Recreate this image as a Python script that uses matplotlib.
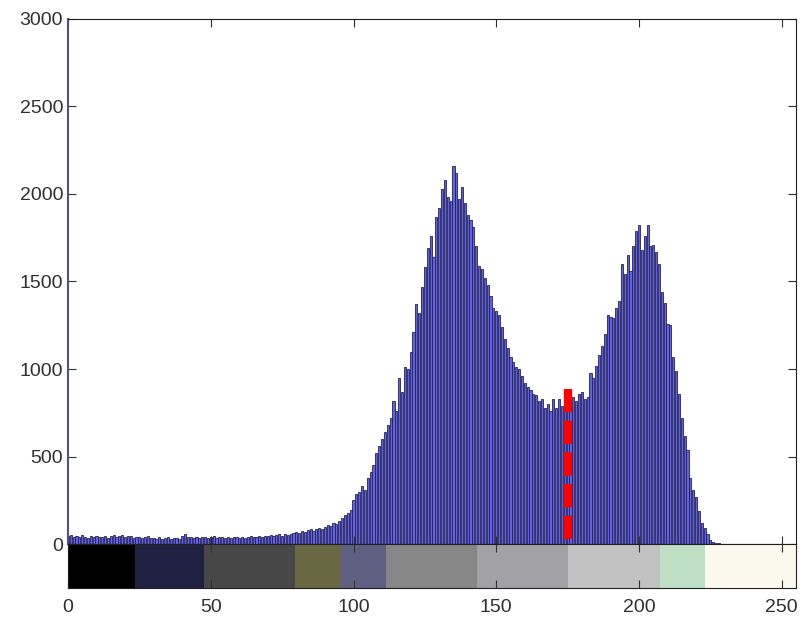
import numpy as np
import matplotlib.pyplot as plt
from matplotlib.colors import ListedColormap

plt.rcParams['font.family'] = ['Liberation Sans', 'DejaVu Sans']

# gray level counts (bins 0..255)
counts = [
    45, 52, 40, 48, 38, 50, 42, 36, 44, 40,
    46, 38, 42, 48, 35, 44, 50, 40, 46, 52,
    38, 44, 48, 36, 42, 40, 34, 38, 44, 32,
    36, 30, 38, 28, 34, 40, 26, 32, 36, 30,
    44, 55, 38, 42, 36, 40, 34, 38, 42, 36,
    40, 44, 34, 38, 42, 36, 40, 34, 38, 42,
    36, 38, 34, 40, 44, 38, 42, 46, 40, 48,
    44, 52, 46, 50, 56, 48, 60, 52, 58, 64,
    70, 62, 74, 68, 78, 84, 76, 88, 94, 86,
    100, 108, 102, 118, 112, 130, 150, 165, 180, 195,
    250, 285, 300, 330, 310, 380, 410, 450, 520, 560,
    600, 640, 680, 720, 820, 760, 950, 870, 1010, 1000,
    1100, 1210, 1370, 1320, 1470, 1580, 1690, 1760, 1640, 1870,
    1920, 2030, 2080, 1980, 1960, 2160, 2120, 1970, 2040, 1950,
    1880, 1850, 1810, 1700, 1590, 1570, 1520, 1480, 1420, 1350,
    1330, 1310, 1240, 1170, 1120, 1070, 1040, 1010, 1000, 960,
    920, 900, 880, 860, 850, 820, 830, 780, 800, 760,
    830, 780, 830, 790, 810, 820, 780, 840, 820, 860,
    870, 830, 840, 980, 950, 1020, 1080, 1130, 1200, 1310,
    1300, 1290, 1350, 1390, 1600, 1540, 1650, 1560, 1700, 1790,
    1820, 1680, 1760, 1820, 1700, 1710, 1670, 1600, 1440, 1380,
    1260, 1250, 1070, 990, 860, 720, 620, 540, 380, 310,
    270, 190, 120, 90, 60, 25, 12, 8, 5, 3,
    0, 0, 0, 0, 0, 0, 0, 0, 0, 0,
    0, 0, 0, 0, 0, 0, 0, 0, 0, 0,
    0, 0, 0, 0, 0, 0,
]
levels = np.arange(256)

# threshold marker
threshold = 175
threshold_top = 886

# colormap strip under the histogram
cmap_edges = [0, 23.5, 47.7, 79.6, 95.7, 111.5, 143.4, 175, 207.2, 223, 255]
cmap_colors = ['#000000', '#202042', '#474747', '#6a6842', '#5f5f82',
               '#878787', '#a2a2a6', '#c2c2c2', '#bfe0c4', '#fbf9ee']

fig = plt.figure(figsize=(8.01, 6.18), dpi=100)
ax = fig.add_axes([0.0849, 0.1197, 0.9089, 0.8496])
cax = fig.add_axes([0.0849, 0.0485, 0.9089, 0.0712])

ax.bar(levels, counts, width=0.75, color='#6262e2', edgecolor='#20205a', linewidth=0.6)
ax.plot([threshold, threshold], [threshold_top, 0], color='red', linewidth=6,
        linestyle=(0, (2.8, 1.0)), solid_capstyle='butt', dash_capstyle='butt')

ax.set_xlim(0, 255)
ax.set_ylim(0, 3000)
ax.set_yticks(np.arange(0, 3001, 500))
ax.set_xticks(np.arange(0, 251, 50))
ax.tick_params(direction='in', length=6, labelsize=14, colors='#303030',
               top=True, right=True, labelbottom=False)
for s in ax.spines.values():
    s.set_color('#202020')
ax.spines['left'].set_color('#50508a')
ax.spines['left'].set_linewidth(1.5)

cax.pcolormesh(cmap_edges, [0, 1], [np.arange(len(cmap_colors))],
               cmap=ListedColormap(cmap_colors), vmin=-0.5, vmax=len(cmap_colors) - 0.5)
cax.set_xlim(0, 255)
cax.set_ylim(0, 1)
cax.set_yticks([])
cax.set_xticks(np.arange(0, 251, 50))
cax.tick_params(direction='in', length=6, labelsize=14, colors='#303030', top=True, pad=8)
for s in cax.spines.values():
    s.set_color('#202020')

fig.savefig('out.png', dpi=100)
